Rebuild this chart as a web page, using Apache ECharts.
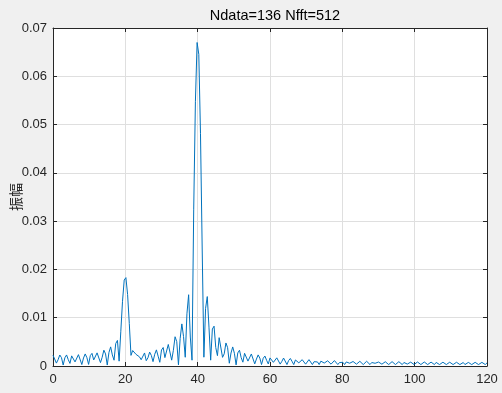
<!DOCTYPE html>
<html>
<head>
<meta charset="utf-8">
<script src="https://cdn.jsdelivr.net/npm/echarts@6/dist/echarts.min.js"></script>
<style>
html,body{margin:0;padding:0;background:#f0f0f0;}
#chart{width:502px;height:393px;}
</style>
</head>
<body>
<div id="chart"></div>
<script>
// Sampling description of the spectrum (frequency grid of the FFT bins)
const sampleRate = 240;      // Hz
const nfft = 512;
const titleText = 'Ndata=136 Nfft=512';
const yLabel = '振幅';
const xTicks = [0, 20, 40, 60, 80, 100, 120];
const yTicks = [0, 0.01, 0.02, 0.03, 0.04, 0.05, 0.06, 0.07];

// Magnitude at each FFT bin (0 .. 120 Hz)
const amplitude = [
  0.00223, 0.00214, 0.00060, 0.00130, 0.00228, 0.00173, 0.00020, 0.00170, 0.00229, 0.00132, 0.00054, 0.00210, 0.00225, 0.00085, 0.00110, 0.00235,
  0.00206, 0.00030, 0.00166, 0.00250, 0.00172, 0.00033, 0.00215, 0.00262, 0.00125, 0.00100, 0.00272, 0.00260, 0.00070, 0.00180, 0.00328, 0.00250,
  0.00020, 0.00280, 0.00396, 0.00230, 0.00120, 0.00465, 0.00530, 0.00100, 0.00720, 0.01340, 0.01780, 0.01830, 0.01480, 0.00880, 0.00220, 0.00320,
  0.00290, 0.00240, 0.00210, 0.00190, 0.00130, 0.00160, 0.00270, 0.00110, 0.00170, 0.00288, 0.00219, 0.00090, 0.00243, 0.00334, 0.00204, 0.00077,
  0.00332, 0.00383, 0.00174, 0.00177, 0.00446, 0.00437, 0.00121, 0.00324, 0.00606, 0.00504, 0.00024, 0.00567, 0.00872, 0.00609, 0.00181, 0.01081,
  0.01476, 0.00600, 0.00120, 0.03248, 0.05483, 0.06700, 0.06455, 0.04810, 0.02423, 0.00182, 0.01194, 0.01438, 0.00805, 0.00121, 0.00765, 0.00825,
  0.00382, 0.00214, 0.00587, 0.00547, 0.00179, 0.00253, 0.00477, 0.00380, 0.00057, 0.00269, 0.00395, 0.00263, 0.00023, 0.00271, 0.00327, 0.00173,
  0.00079, 0.00263, 0.00267, 0.00101, 0.00118, 0.00249, 0.00213, 0.00044, 0.00144, 0.00230, 0.00164, 0.00030, 0.00160, 0.00206, 0.00118, 0.00042,
  0.00167, 0.00180, 0.00076, 0.00072, 0.00169, 0.00153, 0.00039, 0.00096, 0.00165, 0.00125, 0.00030, 0.00114, 0.00156, 0.00096, 0.00030, 0.00125,
  0.00143, 0.00066, 0.00050, 0.00131, 0.00126, 0.00038, 0.00072, 0.00132, 0.00105, 0.00030, 0.00089, 0.00128, 0.00084, 0.00030, 0.00100, 0.00120,
  0.00061, 0.00037, 0.00108, 0.00108, 0.00038, 0.00056, 0.00112, 0.00093, 0.00030, 0.00072, 0.00110, 0.00076, 0.00030, 0.00084, 0.00105, 0.00057,
  0.00030, 0.00093, 0.00097, 0.00038, 0.00045, 0.00097, 0.00085, 0.00030, 0.00060, 0.00098, 0.00071, 0.00030, 0.00072, 0.00095, 0.00056, 0.00030,
  0.00082, 0.00089, 0.00038, 0.00037, 0.00088, 0.00080, 0.00030, 0.00052, 0.00090, 0.00069, 0.00030, 0.00064, 0.00089, 0.00055, 0.00030, 0.00073,
  0.00084, 0.00040, 0.00030, 0.00080, 0.00077, 0.00030, 0.00045, 0.00083, 0.00067, 0.00030, 0.00057, 0.00083, 0.00055, 0.00030, 0.00067, 0.00080,
  0.00041, 0.00030, 0.00074, 0.00074, 0.00030, 0.00039, 0.00078, 0.00065, 0.00030, 0.00051, 0.00078, 0.00054, 0.00030, 0.00061, 0.00077, 0.00042,
  0.00030, 0.00069, 0.00072, 0.00030, 0.00034, 0.00074, 0.00065, 0.00030, 0.00046, 0.00076, 0.00055, 0.00030, 0.00057, 0.00075, 0.00044, 0.00030,
  0.00065
];

const binWidth = sampleRate / nfft;
const seriesData = amplitude.map((a, i) => [i * binWidth, a]);

const axisColor = '#262626';
const gridColor = '#dfdfdf';
const tickFont = {color: axisColor, fontSize: 13, fontFamily: '"Liberation Sans", Arial, sans-serif'};

const xMin = xTicks[0], xMax = xTicks[xTicks.length - 1], xStep = xTicks[1] - xTicks[0];
const yMin = yTicks[0], yMax = yTicks[yTicks.length - 1], yStep = 0.01;

const chart = echarts.init(document.getElementById('chart'), null, {renderer: 'canvas'});
chart.setOption({
  backgroundColor: '#f0f0f0',
  animation: false,
  title: {
    text: titleText,
    left: 270, top: 3, textAlign: 'center',
    textStyle: {color: '#000', fontSize: 14.5, fontWeight: 'normal', fontFamily: '"Liberation Sans", Arial, sans-serif'}
  },
  grid: {left: 53, right: 15, top: 28, bottom: 27, show: true, backgroundColor: '#ffffff', borderWidth: 0},
  xAxis: [{
    type: 'value', min: xMin, max: xMax, interval: xStep, position: 'bottom',
    axisLine: {show: true, onZero: false, lineStyle: {color: axisColor, width: 1}},
    axisTick: {show: true, inside: true, length: 4, lineStyle: {color: axisColor}},
    axisLabel: Object.assign({margin: 7}, tickFont),
    splitLine: {show: true, lineStyle: {color: gridColor, width: 1}}
  }, {
    type: 'value', min: xMin, max: xMax, interval: xStep, position: 'top',
    axisLine: {show: true, onZero: false, lineStyle: {color: axisColor, width: 1}},
    axisTick: {show: true, inside: true, length: 4, lineStyle: {color: axisColor}},
    axisLabel: {show: false}, splitLine: {show: false}
  }],
  yAxis: [{
    type: 'value', min: yMin, max: yMax, interval: yStep, position: 'left',
    axisLine: {show: true, onZero: false, lineStyle: {color: axisColor, width: 1}},
    axisTick: {show: true, inside: true, length: 4, lineStyle: {color: axisColor}},
    axisLabel: Object.assign({margin: 6, formatter: v => v === 0 ? '0' : v.toFixed(2)}, tickFont),
    splitLine: {show: true, lineStyle: {color: gridColor, width: 1}}
  }, {
    type: 'value', min: yMin, max: yMax, interval: yStep, position: 'right',
    axisLine: {show: true, onZero: false, lineStyle: {color: axisColor, width: 1}},
    axisTick: {show: true, inside: true, length: 4, lineStyle: {color: axisColor}},
    axisLabel: {show: false}, splitLine: {show: false}
  }],
  graphic: [{
    type: 'text', x: 16, y: 197, rotation: Math.PI / 2,
    style: {text: yLabel, align: 'center', verticalAlign: 'middle', fill: axisColor,
      font: '14px "Noto Sans CJK SC", sans-serif'}
  }],
  series: [{
    type: 'line', xAxisIndex: 0, yAxisIndex: 0,
    data: seriesData, showSymbol: false, smooth: false, clip: true,
    lineStyle: {color: '#0072BD', width: 1},
    z: 3
  }]
});
</script>
</body>
</html>
